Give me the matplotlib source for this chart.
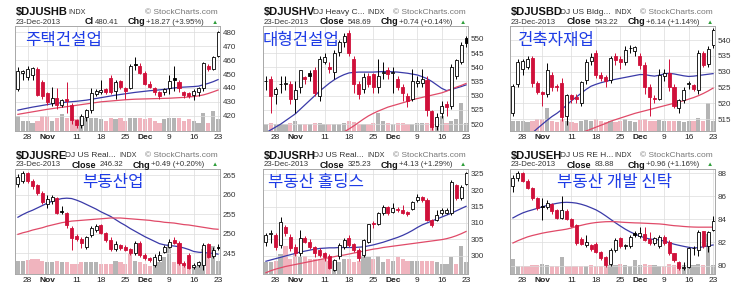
import numpy as np
import pandas as pd
import matplotlib
matplotlib.use('Agg')
import matplotlib.pyplot as plt

plt.rcParams['font.family'] = ['Liberation Sans', 'DejaVu Sans']

# ---- dates / ticks ----
dates = pd.bdate_range('2013-10-24', '2013-12-23')
dates = dates[dates != pd.Timestamp('2013-11-28')]
tick_dates = ['2013-10-28', '2013-11-01', '2013-11-11', '2013-11-18', '2013-11-25',
              '2013-12-02', '2013-12-09', '2013-12-16', '2013-12-23']
tick_labels = ['28', 'Nov', '11', '18', '25', 'Dec', '9', '16', '23']

# ---- $DJUSHB ----
hb_open = [439, 451, 448, 449, 454, 444, 436, 429, 433, 428, 432, 428, 417, 413, 419, 424, 436, 437, 439, 447, 438,
           445, 440, 440, 457, 456, 451, 443, 440, 437, 437, 440, 447, 444, 437, 436, 435, 437, 440, 456, 454, 463]
hb_high = [455, 453, 455.5, 455, 455, 446, 437, 441, 440, 432, 444, 429, 418, 421, 425, 440, 439, 446, 440, 449, 446,
           446, 441, 457, 462, 458, 452, 445, 441, 438, 440, 449, 456, 446, 438, 437, 439, 441, 459, 457, 463, 481]
hb_low = [438, 446, 446, 446, 434, 432, 428, 427, 425, 426, 422, 414, 411, 411, 416, 422, 434, 436, 436, 436, 432,
          439, 432, 439, 453, 450, 442, 440, 435, 432, 435, 436, 438, 437, 433, 433, 431, 434, 438, 452, 453, 462]
hb_close = [452, 452.5, 454, 454.5, 435, 434, 430, 433, 428, 431, 430.5, 417, 413, 420, 424, 436, 438, 438.5, 437, 436.8, 444,
            441, 438, 456, 456.5, 451, 443, 441, 437, 434, 439, 445, 446, 440, 435, 434.5, 438, 440, 458, 454, 462.14, 480.41]
hb_vol = [45, 30, 30, 25, 30, 45, 45, 30, 40, 50, 40, 40, 35, 45, 40, 40, 40, 35, 30, 40, 35,
          40, 30, 40, 40, 40, 35, 40, 30, 25, 35, 40, 40, 40, 30, 35, 30, 25, 55, 25, 60, 35]
hb_ma20 = [424, 424.8, 425.5, 426.2, 426.8, 427.4, 428, 428.6, 429, 429.4, 429.8, 430.1, 430.4, 430.8, 431.2, 431.8,
           432.4, 433, 433.6, 434.2, 434.8, 435.3, 435.8, 436.3, 436.8, 437.2, 437.6, 438, 438.3, 438.6, 439, 439.5,
           440, 440.4, 440.6, 440.8, 441, 441.3, 442.3, 443.3, 444.5, 446]
hb_ma50 = [421, 421.6, 422.2, 422.8, 423.4, 424, 424.6, 425.1, 425.6, 426.1, 426.5, 427, 427.5, 428, 428.5, 429, 429.5,
           430, 430.3, 430.6, 430.9, 431.2, 431.5, 431.7, 431.9, 432, 432.1, 432.2, 432.3, 432.4, 432.5, 432.6, 432.8,
           433, 433.2, 433.5, 433.8, 434.3, 435, 436, 437.2, 438.5]

# ---- $DJUSHV ----
hv_open = [535, 536, 530.5, 534, 534, 534, 529, 533, 536.5, 538, 539, 530, 542, 540, 538.5, 545.5, 549, 552, 543, 534, 532.5,
           537, 537.5, 533, 538, 539, 538, 536, 533, 530, 529, 534.5, 534.5, 535.5, 524.5, 519.5, 524, 527, 526.5, 537, 541.8, 550.3]
hv_high = [537, 537, 533, 537, 537, 535, 535, 539, 537, 539, 540, 544, 545, 542, 546, 549.5, 552, 553, 544, 535, 538,
           538, 538, 543, 542, 540, 540, 537, 534, 531, 539.5, 537, 539.5, 537, 525, 524, 528, 528, 541, 543, 549, 551]
hv_low = [532, 524, 527, 531, 532, 527, 524, 531, 534, 535, 530, 528, 541, 538, 536, 544, 547, 544, 531, 529, 531,
          533, 531, 531, 536, 536, 531, 532, 528, 526, 528, 533, 533, 523, 518, 518, 522, 523, 525.5, 536, 541, 547]
hv_close = [535.3, 530, 532.5, 534.2, 534.5, 529, 532, 539, 536, 537, 531, 543, 543.5, 539.5, 545, 549, 551, 545, 534, 530.5, 536.5,
            534, 533, 537, 538.5, 537.5, 538.2, 533, 531, 528, 535, 535.2, 536, 525, 519, 522.5, 526.5, 526, 540, 542.5, 547.95, 548.69]
hv_vol = [22, 25, 20, 22, 20, 25, 30, 22, 20, 22, 25, 25, 20, 22, 20, 22, 25, 30, 28, 22, 20,
          22, 25, 55, 30, 25, 22, 25, 25, 22, 20, 25, 25, 25, 22, 20, 45, 25, 30, 35, 85, 25]
hv_ma20 = [517, 518, 519, 520, 521.2, 522.4, 523.6, 525.2, 526.8, 528.4, 530, 531.6, 533, 534.4, 535.6, 536.6, 537.4,
           538, 538.2, 538.3, 538.3, 538.3, 538.3, 538.4, 538.5, 538.5, 538.4, 538.3, 538.1, 537.9, 537.6, 537.3,
           536.7, 536, 535, 533.8, 532.6, 531.8, 532.2, 532.7, 533.2, 533.8]
hv_ma50 = [499, 500.2, 501.4, 502.6, 503.8, 505, 506.2, 507.4, 508.6, 509.8, 511, 512.1, 513.2, 514.3, 515.4, 516.4,
           517.3, 518.3, 519.4, 520.6, 521.8, 522.9, 523.8, 524.6, 525.3, 526, 526.5, 527, 527.5, 528, 528.6, 529,
           529.4, 529.8, 530.2, 530.6, 531, 531.6, 532.3, 533, 533.6, 534.3]

# ---- $DJUSBD ----
bd_open = [517, 526, 531, 531.6, 534.5, 526.5, 523.6, 523, 529, 525.4, 526.3, 516, 522.5, 522, 520, 527.3, 533.3, 536, 529, 528.4, 527.3,
           534.9, 534, 533, 537.5, 536.5, 535, 532.2, 525.2, 521.8, 521.5, 528.5, 529.5, 525, 518.5, 521, 526, 525.7, 524.2, 535.9, 532.3, 538.4]
bd_high = [526, 534, 534, 535, 535, 527, 524, 532.7, 530, 526, 528, 523, 523, 523, 527, 534, 536, 537, 530, 529, 535,
           536, 535, 538, 538.5, 538, 536, 533, 526, 522.5, 531, 531, 534, 526, 521.5, 525, 527, 526, 537, 536.5, 538, 544]
bd_low = [516, 525, 529, 531, 525, 523, 519, 522, 524, 524, 514.5, 513, 520, 520, 519, 526, 532, 528, 527, 525, 526.5,
          532, 531, 532, 536, 535, 531, 523, 516, 520, 521, 527, 524, 518.5, 517, 520, 524.5, 524, 523, 531.5, 531.5, 537.5]
bd_close = [525.5, 533, 533.5, 534, 526.5, 523.6, 523, 530.5, 525.2, 525.1, 515.5, 522.5, 521.5, 521.4, 526.8, 533.2, 534.8, 529, 527.9, 527, 534.3,
            533.8, 533.2, 537, 537.6, 537.8, 532.2, 525, 522, 521.4, 529, 529.6, 525, 519, 521, 524.1, 526.3, 524.6, 536, 532.2, 537.08, 543.22]
bd_vol = [30, 30, 30, 28, 30, 35, 35, 70, 30, 28, 35, 30, 28, 25, 30, 32, 30, 35, 30, 28, 30,
          28, 30, 35, 30, 28, 32, 35, 30, 30, 32, 30, 30, 30, 30, 28, 30, 30, 40, 30, 85, 30]
bd_ma20 = [505, 506.4, 507.8, 509.2, 510.6, 512, 513.3, 514.6, 515.8, 516.8, 518, 519.4, 520.8, 522, 523.2, 524.4,
           525.4, 526, 526.5, 526.9, 527.3, 527.6, 527.9, 528.2, 528.5, 528.8, 529.1, 529.1, 528.8, 528.6, 528.9,
           529.3, 529.5, 529.3, 529, 528.7, 528.5, 528.6, 528.8, 529, 529.2, 529.4]
bd_ma50 = [504, 504.5, 505, 505.5, 506, 506.6, 507.1, 507.6, 508.1, 508.6, 509.1, 509.6, 510, 510.4, 510.8, 511.2,
           511.8, 512.4, 513, 513.6, 514.3, 514.8, 515.3, 515.8, 516.3, 516.8, 517.2, 517.6, 518, 518.4, 518.8, 519.2,
           519.6, 520, 520.4, 520.8, 521.3, 521.8, 522.4, 523.1, 523.9, 524.8]

# ---- $DJUSRE ----
re_open = [262.8, 263.5, 265.6, 263.6, 262.4, 260.4, 257.5, 258.3, 259.2, 255.9, 255.3, 251.4, 249.3, 248.7, 246.6, 249.7, 251, 252.3,
           250.1, 248.4, 246, 247.1, 246.6, 245.9, 245, 247.6, 244.6, 243.7, 242, 243.3, 245.3, 246.6, 248.3, 247.6, 242.4, 244.5,
           241.4, 241.9, 242, 247.2, 244.2, 246.5]
re_high = [265.3, 266, 265.8, 264, 262.8, 261, 260, 260, 259.5, 257, 255.5, 252, 250, 249, 249.5, 252, 252.5, 252.5,
           250.5, 249, 248, 247.4, 247, 246.2, 248, 248, 245, 244, 244.8, 245.5, 247, 248.5, 249.1, 248, 243, 245,
           242.5, 243, 247.5, 247.5, 246.5, 247.3]
re_low = [262, 263, 263, 261.5, 260, 257.5, 256.5, 257.5, 255, 255, 251.5, 245.8, 248, 246.2, 246, 249.2, 250.5, 249.8,
          247.8, 245.6, 245.5, 245.8, 245.5, 244.5, 244.5, 244, 243.2, 242.8, 241.5, 243, 245, 246.3, 247.3, 242, 241.5, 240.8,
          240.8, 241.5, 240.6, 243.8, 243.8, 245.9]
re_close = [264.5, 265.6, 263.5, 262.2, 260.5, 258, 259, 259.5, 255.4, 255.6, 252.3, 248.8, 248.7, 247.5, 249.2, 251.4, 252, 250.1,
            248.4, 246, 247.3, 246.3, 245.9, 245, 247.5, 244.6, 243.7, 243.3, 244, 244.6, 246.6, 247.9, 247.6, 242.4, 242, 241.2,
            241.8, 242.8, 247, 244.1, 245.83, 246.32]
re_vol = [40, 40, 42, 45, 45, 40, 35, 35, 40, 35, 35, 30, 30, 35, 35, 35, 35, 30, 30, 30, 40,
          35, 30, 60, 40, 35, 30, 25, 30, 35, 50, 90, 35, 40, 30, 25, 20, 25, 75, 60, 85, 40]
re_ma20 = [254.2, 254.9, 255.5, 256, 256.6, 257.2, 257.8, 258.3, 258.7, 259, 259.1, 259, 258.6, 258.1, 257.5, 256.9,
           256.3, 255.6, 255, 254.4, 253.6, 252.8, 252.1, 251.3, 250.6, 249.9, 249.2, 248.6, 248, 247.4, 247.1, 246.9,
           246.8, 246.6, 246.3, 245.9, 245.4, 245.2, 245.1, 245, 244.9, 244.7]
re_ma50 = [249.8, 250.2, 250.5, 250.9, 251.2, 251.5, 251.9, 252.2, 252.5, 252.8, 253, 253.2, 253.3, 253.4, 253.5, 253.6,
           253.7, 253.8, 253.9, 254, 254, 254, 253.9, 253.8, 253.7, 253.6, 253.5, 253.4, 253.2, 253.1, 252.9, 252.8,
           252.7, 252.5, 252.3, 252.2, 252, 251.8, 251.6, 251.4, 251.2, 251.1]

# ---- $DJUSRH ----
rh_open = [304.3, 306.5, 306.4, 303.2, 308.8, 305.8, 302.8, 300.8, 305.4, 304.3, 302.8, 301.7, 300.7, 299.8, 295.7, 299.8, 302.8,
           305.3, 303.7, 301.8, 300.2, 304.3, 310, 309.8, 312.9, 315, 313.5, 314.2, 313.9, 313.4, 314.4, 316.9, 318, 317.1,
           310.8, 310.8, 312.9, 313.2, 313, 321.5, 317.5, 322]
rh_high = [306.8, 308, 307, 311.8, 309.5, 306.5, 303.5, 307.8, 306, 305, 303, 302.5, 301.2, 300.5, 299, 303.8, 305.5,
           306.3, 304, 302.5, 305.2, 309.8, 310.5, 313.3, 315.5, 315.3, 316, 314.8, 315.5, 313.7, 316.8, 318.9, 318.3, 317.5,
           311.3, 313.9, 314.5, 314.5, 323, 322, 321.5, 325.5]
rh_low = [303, 304, 301.7, 302.5, 306, 301.5, 300, 300, 303.8, 302, 299.7, 299.5, 298.5, 295.8, 295.3, 299, 302,
          302.8, 301, 298.5, 299.5, 303.8, 308.5, 309.3, 312.5, 312.5, 313, 313.4, 312.8, 312, 314, 316.5, 316.5, 310.5,
          308.8, 310.5, 312.5, 312.7, 312.5, 317, 317, 321.5]
rh_close = [306.3, 306.9, 302.8, 310.3, 306.8, 302.3, 300.7, 305.3, 304.3, 302.8, 300.8, 300.3, 299.7, 296.3, 298.7, 303.2, 304.8,
            303.3, 301.8, 299.3, 304.8, 309.8, 309.6, 312.9, 314.9, 313, 314.5, 313.9, 313.2, 312.6, 316.4, 317.9, 317, 310.8,
            309.3, 312.4, 313.9, 314.1, 322.5, 317.5, 321.1, 325.23]
rh_vol = [35, 35, 40, 60, 85, 45, 60, 50, 55, 45, 45, 45, 45, 40, 40, 35, 45, 45, 35, 40, 55,
          50, 45, 55, 35, 45, 40, 50, 45, 40, 40, 40, 40, 40, 40, 35, 30, 30, 50, 30, 85, 35]
rh_ma20 = [298.3, 298.7, 299.1, 299.5, 299.9, 300.3, 300.7, 301.1, 301.4, 301.7, 302, 302.2, 302.3, 302.4, 302.4, 302.5,
           302.5, 302.5, 302.5, 302.6, 302.7, 303, 303.3, 303.7, 304.1, 304.6, 305.1, 305.6, 306.2, 306.9, 307.7, 308.6,
           309.4, 310, 310.6, 311.2, 311.8, 312.4, 313, 313.7, 314.4, 315.1]
rh_ma50 = [294.8, 295.4, 295.9, 296.3, 296.7, 297, 297.3, 297.6, 297.9, 298.2, 298.5, 298.8, 299.1, 299.4, 299.7, 300,
           300.2, 300.5, 300.8, 301.1, 301.4, 301.7, 302, 302.2, 302.5, 302.7, 302.9, 303.1, 303.3, 303.5, 303.7, 303.9,
           304.1, 304.3, 304.5, 304.7, 304.9, 305.2, 305.6, 306.1, 306.7, 307.4]

# ---- $DJUSEH ----
eh_open = [86.85, 87.57, 88, 87.3, 86.7, 85.83, 85.15, 85.1, 85.3, 84.8, 84.1, 84.75, 84, 83.5, 82.3, 81.8, 81.8, 81.9, 81.2,
           80.75, 80.1, 81.35, 82.4, 81.65, 81.7, 82.8, 82.55, 82.75, 82.3, 81.95, 81.7, 82.5, 82.05, 81.06, 80.35, 79.8,
           79.9, 81.5, 81.35, 82.95, 81.65, 83.1]
eh_high = [87.8, 88.2, 88.1, 87.5, 86.8, 85.9, 85.8, 85.7, 85.4, 84.9, 86, 84.9, 84.1, 83.6, 82.5, 82.6, 81.9, 82, 81.3,
           80.85, 81.5, 82.4, 82.5, 81.9, 82.6, 82.95, 83.3, 83.3, 82.9, 82.5, 82.6, 82.6, 82.2, 81.1, 80.4, 80.3,
           81.6, 81.7, 83.1, 83, 83, 84.25]
eh_low = [86.4, 87.3, 87.2, 86.6, 85.7, 84.8, 83.95, 84.9, 84.5, 84, 84, 83.9, 83.3, 81.8, 81.8, 81.6, 81.3, 81.1, 80.5,
          79.9, 80, 81.2, 81.5, 81.4, 81.5, 82.5, 82.4, 82.1, 81.8, 81.8, 81.5, 81.8, 80.9, 80.3, 79.6, 79.6,
          79.8, 80.9, 80.8, 81.5, 81.2, 83]
eh_close = [87.55, 88, 87.3, 86.75, 85.85, 84.97, 85.05, 85.4, 84.7, 84.1, 84.8, 84, 83.4, 81.95, 81.9, 82.05, 81.4, 81.2, 80.65,
            80.05, 81.35, 82.2, 81.65, 81.8, 82.5, 82.65, 82.8, 82.2, 81.95, 82.4, 82.5, 81.95, 81.1, 80.5, 79.8, 79.85,
            81.5, 81.55, 82.94, 81.65, 82.92, 83.88]
eh_vol = [45, 25, 25, 25, 28, 28, 30, 28, 25, 25, 50, 25, 25, 25, 25, 25, 28, 25, 25, 25, 28,
          28, 30, 28, 25, 42, 28, 30, 28, 28, 25, 25, 30, 28, 28, 28, 30, 28, 30, 28, 120, 28]
eh_ma20 = [84.12, 84.35, 84.55, 84.7, 84.82, 84.95, 85.08, 85.2, 85.3, 85.38, 85.45, 85.47, 85.45, 85.4, 85.3, 85.17,
           85.0, 84.82, 84.58, 84.3, 84.0, 83.7, 83.42, 83.15, 82.92, 82.72, 82.55, 82.4, 82.3, 82.25, 82.22, 82.12,
           81.98, 81.85, 81.75, 81.66, 81.58, 81.52, 81.55, 81.62, 81.7, 81.78]
eh_ma50 = [81.95, 82.15, 82.32, 82.48, 82.6, 82.7, 82.8, 82.88, 82.95, 83.02, 83.08, 83.15, 83.25, 83.38, 83.48, 83.58,
           83.66, 83.72, 83.76, 83.79, 83.8, 83.79, 83.76, 83.73, 83.71, 83.69, 83.68, 83.66, 83.64, 83.62, 83.6, 83.56,
           83.5, 83.45, 83.42, 83.38, 83.35, 83.33, 83.32, 83.32, 83.32, 83.32]

# header texts
symbols = ['$DJUSHB', '$DJUSHV', '$DJUSBD', '$DJUSRE', '$DJUSRH', '$DJUSEH']
names = ['', 'DJ Heavy C...', 'DJ US Bldg...', 'DJ US Real...', 'DJ US Real...', 'DJ US RE H...']
close_lbl = ['Cl', 'Close', 'Close', 'Close', 'Close', 'Close']
close_txt = ['480.41', '548.69', '543.22', '246.32', '325.23', '83.88']
chg_txt = ['+18.27 (+3.95%)', '+0.74 (+0.14%)', '+6.14 (+1.14%)', '+0.49 (+0.20%)', '+4.13 (+1.29%)', '+0.96 (+1.16%)']
korean = ['주택건설업', '대형건설업', '건축자재업', '부동산업', '부동산 홀딩스', '부동산 개발 신탁']

W, H = 740, 302
RED = '#d0103a'
PINK = '#f0b4be'
GREY = '#b4b4b4'
BLUE_TXT = '#1e3ce6'

fig = plt.figure(figsize=(W / 100, H / 100), dpi=100)


def px(x, y):
    return x / W, 1 - y / H


def panel(k, box, o, h, l, c, v, ma20, ma50, ylim, yticks, kor_xy):
    x0, y0, x1, y1 = box
    o, h, l, c, v = map(np.asarray, (o, h, l, c, v))
    ax = fig.add_axes([x0 / W, 1 - y1 / H, (x1 - x0) / W, (y1 - y0) / H])
    axv = ax.twinx()
    n = len(c)
    xs = np.arange(n)
    prev = np.r_[c[0], c[:-1]]
    down = c < prev
    col = np.where(down, RED, 'black')
    filled = c < o

    axv.bar(xs, v, width=0.85, color=np.where(down, PINK, GREY), zorder=1)
    axv.set_ylim(0, 315)
    axv.set_yticks([])
    for s in axv.spines.values():
        s.set_visible(False)
    ax.set_zorder(axv.get_zorder() + 1)
    ax.patch.set_visible(False)

    ax.plot(xs, ma20, color='#3a3aa8', lw=0.9, zorder=2)
    ax.plot(xs, ma50, color='#e04a68', lw=0.9, zorder=2)
    ax.vlines(xs, l, h, colors=col, lw=0.7, zorder=3)
    ax.bar(xs, np.maximum(np.abs(c - o), (ylim[1] - ylim[0]) * 0.004), bottom=np.minimum(o, c), width=0.62,
           color=np.where(filled, col, 'white'), edgecolor=col, lw=0.6, zorder=4)

    ax.set_xlim(-0.6, n - 0.6)
    ax.set_ylim(*ylim)
    tpos = [dates.get_loc(pd.Timestamp(d)) for d in tick_dates]
    ax.set_xticks(tpos)
    ax.set_xticklabels(tick_labels)
    for t in ax.get_xticklabels():
        if t.get_text() in ('Nov', 'Dec'):
            t.set_fontweight('bold')
    ax.set_yticks(yticks)
    ax.yaxis.tick_right()
    ax.tick_params(axis='y', length=0, pad=2, labelsize=5.8, colors='#333333')
    ax.tick_params(axis='x', length=0, pad=2.5, labelsize=6, colors='#222222')
    ax.grid(True, color='#dcdcdc', lw=0.5)
    for s in ax.spines.values():
        s.set_color('#a8a8a8')
        s.set_linewidth(0.7)

    # header
    ty = y0 - 13.5
    fig.text(*px(x0 + 1, ty), symbols[k], fontsize=8, fontweight='bold', va='center', color='#111111')
    if names[k]:
        fig.text(*px(x0 + 50, ty), names[k], fontsize=6, va='center', color='#333333')
        fig.text(*px(x0 + 104, ty), 'INDX', fontsize=5.2, va='center', color='#333333')
    else:
        fig.text(*px(x0 + 53, ty), 'INDX', fontsize=5.2, va='center', color='#333333')
    fig.text(*px(x1 - 2, ty), '\u00a9 StockCharts.com', fontsize=6, va='center', ha='right', color='#777777')
    dy = y0 - 4
    fig.text(*px(x0 + 1, dy), '23-Dec-2013', fontsize=5.6, va='center', color='#333333')
    if k == 0:
        fig.text(*px(x0 + 70, dy), close_lbl[k], fontsize=6.5, fontweight='bold', va='center', color='#111111')
        fig.text(*px(x0 + 80, dy), close_txt[k], fontsize=5.6, va='center', color='#333333')
        cx = x0 + 113
    else:
        fig.text(*px(x0 + 57, dy), close_lbl[k], fontsize=6.5, fontweight='bold', va='center', color='#111111')
        fig.text(*px(x0 + 85, dy), close_txt[k], fontsize=5.6, va='center', color='#333333')
        cx = x0 + 118
    fig.text(*px(cx, dy), 'Chg', fontsize=6.5, fontweight='bold', va='center', color='#111111')
    fig.text(*px(cx + 18, dy), chg_txt[k], fontsize=5.6, va='center', color='#333333')
    fig.text(*px(x1 - 5, dy), '\u25b2', fontsize=4.5, va='center', ha='center', color='#2e9e3a')

    fig.text(*px(*kor_xy), korean[k], fontsize=12, va='center', color=BLUE_TXT,
             family=['Noto Sans CJK KR', 'DejaVu Sans'])


panel(0, (15, 26, 220, 131), hb_open, hb_high, hb_low, hb_close, hb_vol, hb_ma20, hb_ma50,
      (409, 484.6), range(420, 481, 10), (25, 40))
panel(1, (263, 26, 468, 131), hv_open, hv_high, hv_low, hv_close, hv_vol, hv_ma20, hv_ma50,
      (517.6, 554.5), range(520, 551, 5), (263, 40))
panel(2, (510, 26, 715, 131), bd_open, bd_high, bd_low, bd_close, bd_vol, bd_ma20, bd_ma50,
      (511.2, 544.5), range(515, 541, 5), (518, 40))
panel(3, (15, 169, 220, 274), re_open, re_high, re_low, re_close, re_vol, re_ma20, re_ma50,
      (239.6, 266.6), range(245, 266, 5), (82, 183))
panel(4, (263, 169, 468, 274), rh_open, rh_high, rh_low, rh_close, rh_vol, rh_ma20, rh_ma50,
      (294.4, 326.5), range(300, 326, 5), (268, 182))
panel(5, (510, 169, 715, 274), eh_open, eh_high, eh_low, eh_close, eh_vol, eh_ma20, eh_ma50,
      (79.27, 88.35), range(80, 89, 2), (557, 182))

fig.savefig('out.png', dpi=100)
